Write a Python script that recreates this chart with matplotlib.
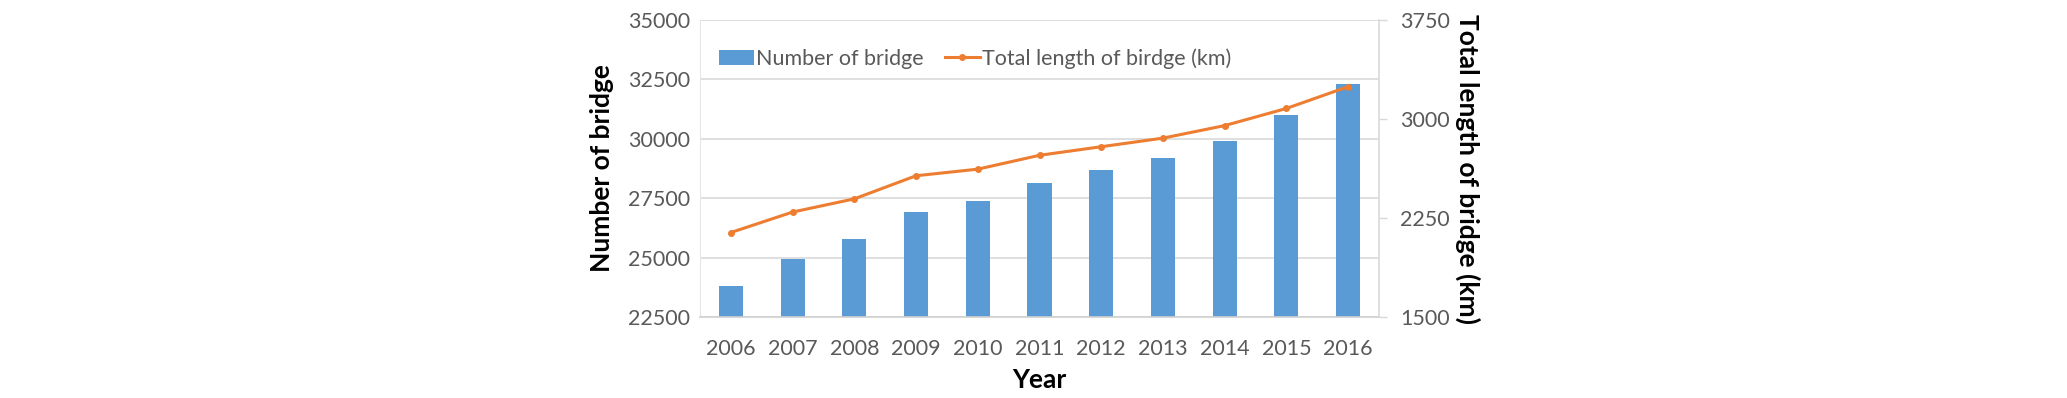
import matplotlib.pyplot as plt
import numpy as np

years = ['2006', '2007', '2008', '2009', '2010', '2011', '2012', '2013', '2014', '2015', '2016']
num_bridge = [23800, 24950, 25800, 26900, 27400, 28150, 28700, 29200, 29900, 31000, 32300]
total_length = [2140, 2295, 2395, 2570, 2620, 2725, 2790, 2855, 2950, 3080, 3245]

plt.rcParams['font.family'] = ['Lato', 'DejaVu Sans']

fig = plt.figure(figsize=(20.67, 3.98), dpi=100)
ax = fig.add_axes([700/2067, 1-317/398, 679/2067, 297/398])
x = np.arange(len(years))

ax.bar(x, num_bridge, width=0.39, color='#5B9BD5', label='Number of bridge', zorder=2)
ax.set_ylim(22500, 35000)
ax.set_xlim(-0.5, len(years)-0.5)
ax.set_yticks([22500, 25000, 27500, 30000, 32500, 35000])
ax.set_xticks(x)
ax.set_xticklabels(years)
ax.grid(axis='y', color='#d9d9d9', linewidth=1.2, zorder=0)
ax.tick_params(axis='both', length=0, labelsize=15.5, colors='#595959', pad=7)
ax.tick_params(axis='x', pad=16)
for s in ['top', 'right']:
    ax.spines[s].set_visible(False)
ax.spines['left'].set_color('#e6e6e6')
ax.spines['bottom'].set_color('#d0d0d0')
ax.spines['bottom'].set_linewidth(1.2)
ax.set_ylabel('Number of bridge', fontsize=19, fontweight='bold', labelpad=10)
ax.set_xlabel('Year', fontsize=19, fontweight='bold', labelpad=6)

ax2 = ax.twinx()
ax2.plot(x, total_length, color='#ED7D31', linewidth=2.2, marker='o', markersize=4,
         label='Total length of birdge (km)', zorder=3)
ax2.set_ylim(1500, 3750)
ax2.set_yticks([1500, 2250, 3000, 3750])
ax2.tick_params(axis='y', length=6, width=1, labelsize=15.5, colors='#595959', pad=9)
ax2.tick_params(axis='y', color='#d9d9d9')
for s in ['top', 'left', 'bottom']:
    ax2.spines[s].set_visible(False)
ax2.spines['right'].set_color('#d9d9d9')
ax2.spines['right'].set_linewidth(1.2)
ax2.set_ylabel('Total length of bridge (km)', fontsize=19, fontweight='bold', rotation=270, labelpad=22)

h1, l1 = ax.get_legend_handles_labels()
h2, l2 = ax2.get_legend_handles_labels()
ax2.legend(h1+h2, l1+l2, loc='upper left', bbox_to_anchor=(0.0, 0.97), ncol=2, frameon=False,
           fontsize=15.5, labelcolor='#595959', handlelength=1.6, handletextpad=0.1, columnspacing=1.0)

fig.savefig('out.png', dpi=100)
